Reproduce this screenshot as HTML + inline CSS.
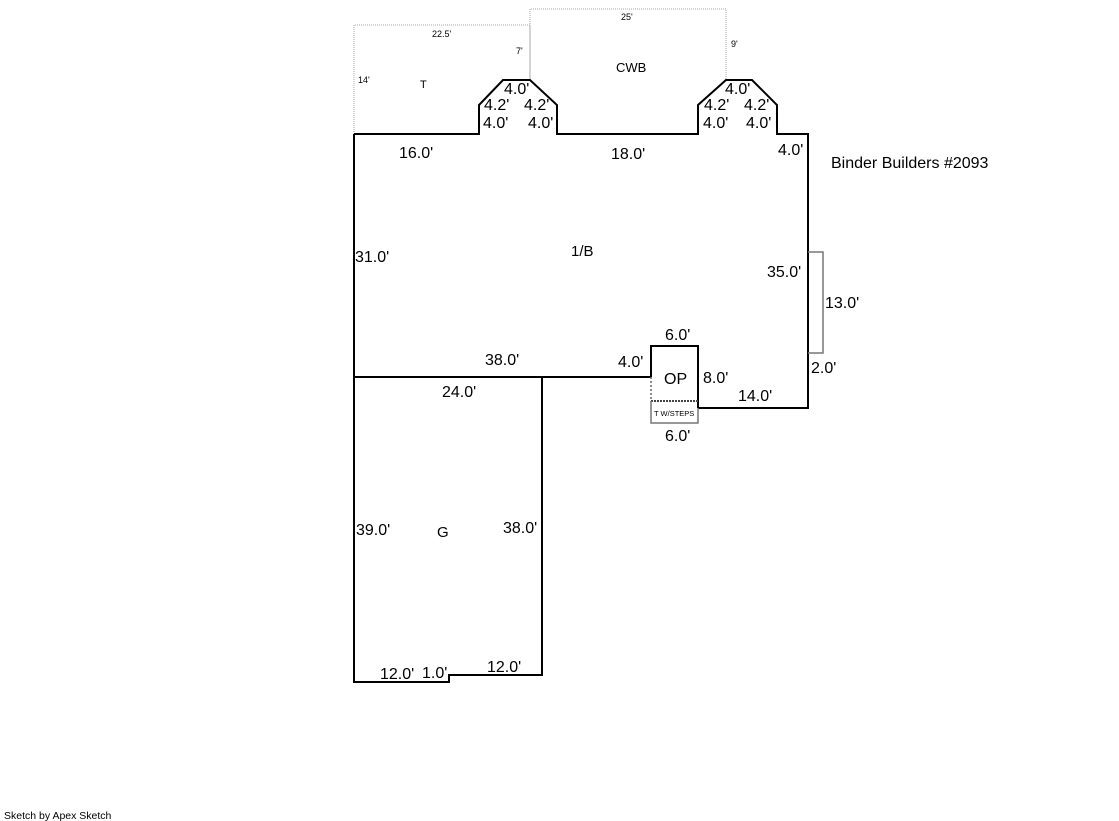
<!DOCTYPE html>
<html><head><style>
html,body{margin:0;padding:0;background:#fff;}
svg{display:block;}
text{font-family:"Liberation Sans",Arial,sans-serif;fill:#000;}
.d{font-size:16px;}
.s{font-size:9px;}
</style></head><body>
<svg width="1119" height="821" viewBox="0 0 1119 821" xmlns="http://www.w3.org/2000/svg">
<g fill="none" stroke="#aaa" stroke-width="1" stroke-dasharray="1,1">
<polyline points="354,134 354,25 530,25 530,80"/>
<polyline points="530,80 530,9 726,9 726,80"/>
</g>
<g fill="none" stroke="#000" stroke-width="2">
<polyline points="354,134 479,134 479,105 503,80 530,80 557,105 557,134 698,134 698,105 726,80 752,80 777,105 777,134 808,134 808,408 698,408"/>
<polyline points="651,377 651,346 698,346 698,408"/>
<polyline points="354,134 354,682 449,682 449,675 542,675 542,377 354,377"/>
<line x1="354" y1="377" x2="651" y2="377"/>
</g>
<line x1="651" y1="377" x2="651" y2="401" stroke="#666" stroke-width="1.5" stroke-dasharray="2,2"/>
<line x1="651" y1="401" x2="698" y2="401" stroke="#444" stroke-width="2" stroke-dasharray="2,1"/>
<polyline points="651,401 651,423 698,423 698,408" fill="none" stroke="#777" stroke-width="1.5"/>
<polyline points="808,252 823,252 823,353 808,353" fill="none" stroke="#777" stroke-width="1.5"/>
<g class="s">
<text x="432" y="37">22.5'</text>
<text x="621" y="20">25'</text>
<text x="516" y="54">7'</text>
<text x="731" y="47">9'</text>
<text x="358" y="83">14'</text>
</g>
<text x="420" y="88" font-size="11">T</text>
<text x="616" y="72" font-size="13">CWB</text>
<g class="d">
<text x="504" y="94">4.0'</text>
<text x="484" y="110">4.2'</text>
<text x="524" y="110">4.2'</text>
<text x="483" y="128">4.0'</text>
<text x="528" y="128">4.0'</text>
<text x="725" y="94">4.0'</text>
<text x="704" y="110">4.2'</text>
<text x="744" y="110">4.2'</text>
<text x="703" y="128">4.0'</text>
<text x="746" y="128">4.0'</text>
<text x="399" y="158">16.0'</text>
<text x="611" y="159">18.0'</text>
<text x="778" y="155">4.0'</text>
<text x="355" y="262">31.0'</text>
<text x="571" y="256" font-size="15">1/B</text>
<text x="767" y="277">35.0'</text>
<text x="825" y="308">13.0'</text>
<text x="811" y="373">2.0'</text>
<text x="665" y="340">6.0'</text>
<text x="618" y="367">4.0'</text>
<text x="485" y="365">38.0'</text>
<text x="664" y="384">OP</text>
<text x="703" y="383">8.0'</text>
<text x="738" y="401">14.0'</text>
<text x="665" y="441">6.0'</text>
<text x="442" y="397">24.0'</text>
<text x="356" y="535">39.0'</text>
<text x="437" y="537" font-size="15">G</text>
<text x="503" y="533">38.0'</text>
<text x="380" y="679">12.0'</text>
<text x="422" y="678">1.0'</text>
<text x="487" y="672">12.0'</text>
</g>
<text x="654" y="416" font-size="7.5">T W/STEPS</text>
<text x="831" y="168" font-size="16">Binder Builders #2093</text>
<text x="4" y="819" font-size="10.5">Sketch by Apex Sketch</text>
</svg>
</body></html>
